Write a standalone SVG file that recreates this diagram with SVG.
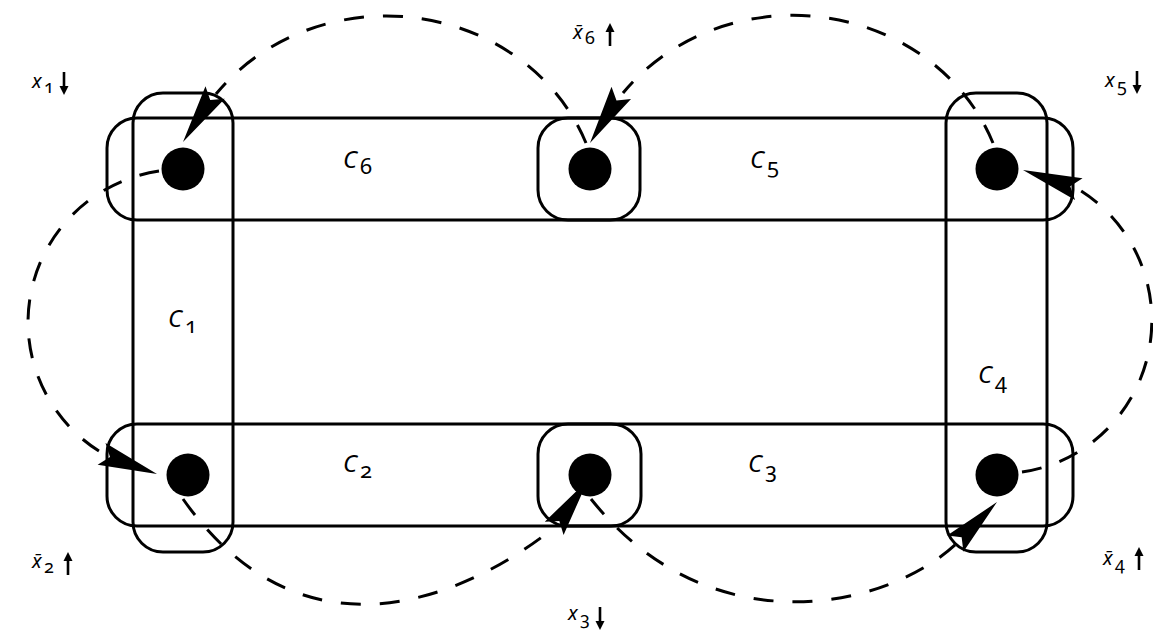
<svg xmlns="http://www.w3.org/2000/svg" width="1153" height="632" viewBox="0 0 1153 632">
<style>
.band{fill:none;stroke:#000;stroke-width:3}
.arc{fill:none;stroke:#000;stroke-width:3;stroke-dasharray:20 19}
.node{fill:#000}
.ah{fill:#000}
.v{font-family:"Noto Sans",sans-serif;font-style:italic;font-size:20px;fill:#000}
.sub{font-family:"Noto Sans",sans-serif;font-size:18px;fill:#000;font-variant-numeric:oldstyle-nums}
.c{font-family:"Noto Sans",sans-serif;font-style:italic;font-size:24px;fill:#000}
.cs{font-family:"Noto Sans",sans-serif;font-size:22px;fill:#000;font-variant-numeric:oldstyle-nums}
.stem{stroke:#000;stroke-width:2.6;fill:none}
</style>
<defs>
<path id="ah" d="M0,0 L-59,-11.5 L-50,0 L-59,11.5 Z"/>
<g id="up"><path class="stem" d="M0,23 V8"/><path d="M-4.5,9 L0,0 L4.5,9 Z" fill="#000"/></g>
<g id="down"><path class="stem" d="M0,0 V15"/><path d="M-4.5,14 L0,23 L4.5,14 Z" fill="#000"/></g>
</defs>
<rect width="1153" height="632" fill="#fff"/>
<g id="C6C5-band"><rect class="band" x="107" y="118" width="966" height="102" rx="30"/></g>
<g id="C2C3-band"><rect class="band" x="107" y="424" width="966" height="102" rx="30"/></g>
<g id="C1"><rect class="band" x="133" y="93" width="100" height="459" rx="30"/><text class="c" x="168" y="327">C</text><text class="cs" x="185" y="333">1</text></g>
<g id="C4"><rect class="band" x="946" y="93" width="101" height="459" rx="30"/><text class="c" x="978" y="383">C</text><text class="cs" x="995" y="389">4</text></g>
<g id="mid-top"><rect class="band" x="538" y="118" width="102" height="102" rx="30"/></g>
<g id="mid-bottom"><rect class="band" x="538" y="424" width="103" height="102" rx="30"/></g>
<g id="C6"><text class="c" x="343" y="168">C</text><text class="cs" x="360" y="174">6</text></g>
<g id="C5"><text class="c" x="750" y="168">C</text><text class="cs" x="767" y="174">5</text></g>
<g id="C2"><text class="c" x="343" y="472">C</text><text class="cs" x="360" y="478">2</text></g>
<g id="C3"><text class="c" x="748" y="472">C</text><text class="cs" x="765" y="478">3</text></g>
<g id="connectors">
<path class="arc" d="M586,143 A214,198 0 0,0 216,94"/>
<path class="arc" d="M993,143 A214,198 0 0,0 623,93"/>
<path class="arc" d="M159,171 A154,153 0 0,0 102,453"/>
<path class="arc" d="M183,499 C305,672 470,595 555,527"/>
<path class="arc" d="M591,499 C709,647 885,610 956,544"/>
<path class="arc" d="M1022,472 A151,153 0 0,0 1078,189"/>
<use href="#ah" class="ah" transform="translate(183,142) rotate(123)"/>
<use href="#ah" class="ah" transform="translate(590,143) rotate(122)"/>
<use href="#ah" class="ah" transform="translate(1023,170) rotate(-161)"/>
<use href="#ah" class="ah" transform="translate(997,502) rotate(-45)"/>
<use href="#ah" class="ah" transform="translate(588,480) rotate(-55)"/>
<use href="#ah" class="ah" transform="translate(157,474) rotate(20)"/>
</g>
<g id="n1"><circle class="node" cx="183" cy="169" r="21.5"/></g>
<g id="n6"><circle class="node" cx="590" cy="169" r="21.5"/></g>
<g id="n5"><circle class="node" cx="997" cy="169" r="21.5"/></g>
<g id="n2"><circle class="node" cx="188" cy="475" r="21.5"/></g>
<g id="n3"><circle class="node" cx="590" cy="475" r="21.5"/></g>
<g id="n4"><circle class="node" cx="997" cy="475" r="21.5"/></g>
<g id="label-x1"><text class="v" x="32" y="88">x</text><text class="sub" x="44" y="93">1</text><use href="#down" x="64" y="72"/></g>
<g id="label-x6"><text class="v" x="573" y="39">x̄</text><text class="sub" x="585" y="44">6</text><use href="#up" x="610" y="23"/></g>
<g id="label-x5"><text class="v" x="1105" y="87">x</text><text class="sub" x="1117" y="92">5</text><use href="#down" x="1137" y="71"/></g>
<g id="label-x2"><text class="v" x="32" y="568">x̄</text><text class="sub" x="44" y="573">2</text><use href="#up" x="68" y="552"/></g>
<g id="label-x3"><text class="v" x="568" y="620">x</text><text class="sub" x="580" y="625">3</text><use href="#down" x="600" y="607"/></g>
<g id="label-x4"><text class="v" x="1103" y="565">x̄</text><text class="sub" x="1115" y="570">4</text><use href="#up" x="1139" y="547"/></g>
</svg>
